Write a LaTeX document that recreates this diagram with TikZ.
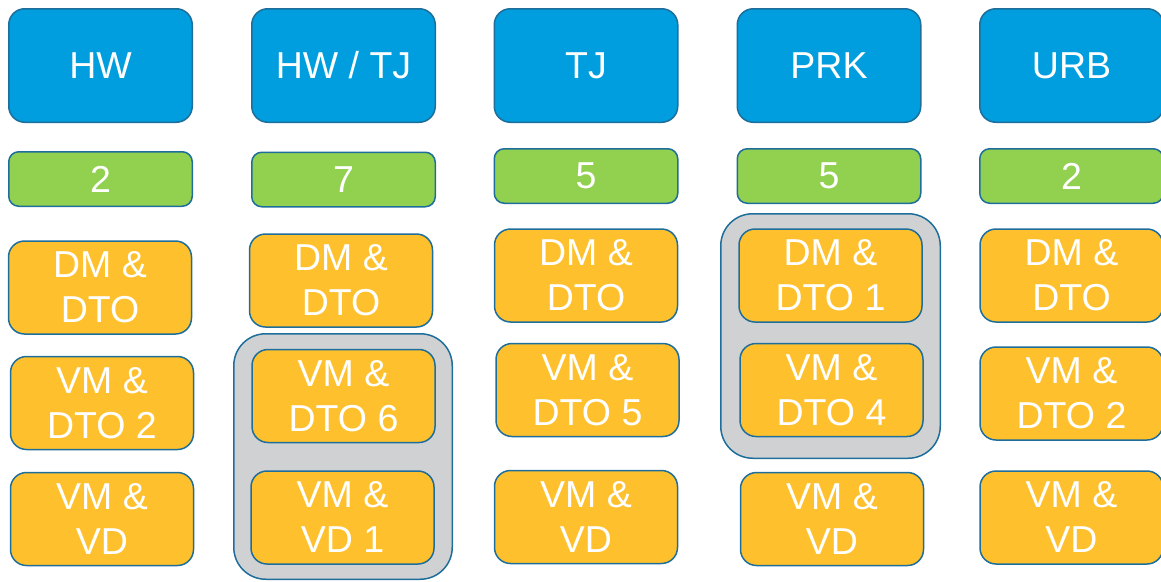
\documentclass[tikz,border=0pt]{standalone}
\usepackage{fontspec}
\setmainfont{Liberation Sans}
\definecolor{cblue}{RGB}{0,158,222}
\definecolor{cgreen}{RGB}{146,208,80}
\definecolor{corange}{RGB}{254,193,45}
\definecolor{cgrey}{RGB}{208,209,211}
\definecolor{cedge}{RGB}{30,110,155}
\tikzset{
  basebox/.style={draw=cedge, line width=1.5pt, inner sep=0pt, text=white, align=center,
    font=\fontsize{37.5}{45}\selectfont},
  bluebox/.style={basebox, fill=cblue, rounded corners=16pt, minimum width=183.5pt, minimum height=113.5pt},
  greenbox/.style={basebox, fill=cgreen, rounded corners=10pt, minimum width=183.5pt, minimum height=54.5pt},
  orangebox/.style={basebox, fill=corange, rounded corners=16pt, minimum width=183pt, minimum height=93pt},
  greybox/.style={draw=cedge, line width=1.5pt, fill=cgrey, rounded corners=32pt, inner sep=0pt},
}
\begin{document}
\begin{tikzpicture}[x=1pt,y=-1pt]
\useasboundingbox (0,0) rectangle (1161,581);
% grey groups
\node[greybox, minimum width=218.5pt, minimum height=245.5pt] (gr2) at (343,456.5) {};
\node[greybox, minimum width=219.5pt, minimum height=244.5pt] (gr4) at (830.5,336) {};
% blue headers
\node[bluebox] (b1) at (100.5,65.5) {HW};
\node[bluebox] (b2) at (343.5,65.5) {HW / TJ};
\node[bluebox] (b3) at (586,65.5) {TJ};
\node[bluebox] (b4) at (829,65.5) {PRK};
\node[bluebox] (b5) at (1071.5,65.5) {URB};
% green counts
\node[greenbox] (g1) at (100.5,179) {2};
\node[greenbox] (g2) at (343.5,179.5) {7};
\node[greenbox] (g3) at (586,176) {5};
\node[greenbox] (g4) at (829,176) {5};
\node[greenbox] (g5) at (1071.5,176) {2};
% column 1
\node[orangebox] (o11) at (100,287.5) {DM \&\\DTO};
\node[orangebox] (o12) at (102,403) {VM \&\\DTO 2};
\node[orangebox] (o13) at (102,519) {VM \&\\VD};
% column 2
\node[orangebox] (o21) at (341,280.5) {DM \&\\DTO};
\node[orangebox] (o22) at (343.5,396) {VM \&\\DTO 6};
\node[orangebox] (o23) at (342.5,517.5) {VM \&\\VD 1};
% column 3
\node[orangebox] (o31) at (586,275.5) {DM \&\\DTO};
\node[orangebox] (o32) at (587.5,390) {VM \&\\DTO 5};
\node[orangebox] (o33) at (586,517) {VM \&\\VD};
% column 4
\node[orangebox] (o41) at (830.5,275.5) {DM \&\\DTO 1};
\node[orangebox] (o42) at (831.5,390) {VM \&\\DTO 4};
\node[orangebox] (o43) at (832,519) {VM \&\\VD};
% column 5
\node[orangebox] (o51) at (1071.5,275.5) {DM \&\\DTO};
\node[orangebox] (o52) at (1071.5,393.5) {VM \&\\DTO 2};
\node[orangebox] (o53) at (1071.5,517.5) {VM \&\\VD};
\end{tikzpicture}
\end{document}
